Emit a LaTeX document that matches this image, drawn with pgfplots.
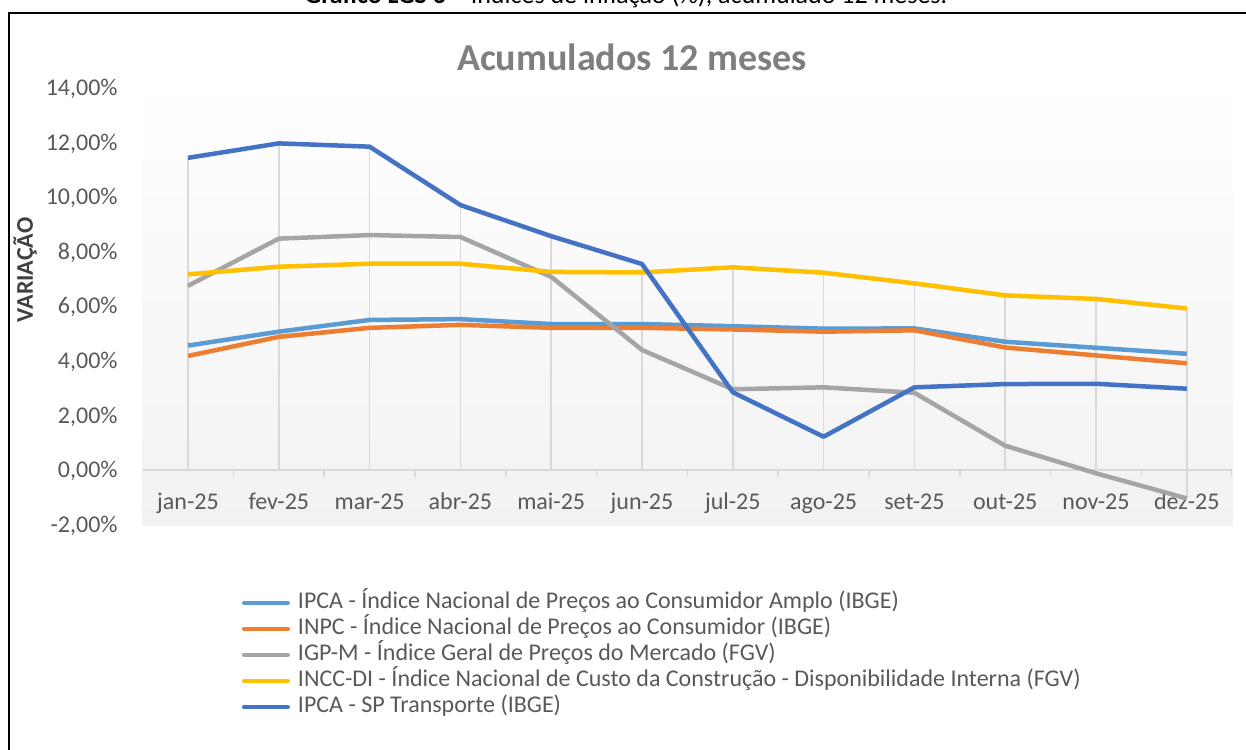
\documentclass[border=0pt]{standalone}
\usepackage{fontspec}
\setmainfont{Carlito}
\usepackage{pgfplots}
\pgfplotsset{compat=1.18}
\usepackage{pgfplotstable}

\definecolor{ipca}{HTML}{5B9BD5}
\definecolor{inpc}{HTML}{ED7D31}
\definecolor{igpm}{HTML}{A5A5A5}
\definecolor{incc}{HTML}{FFC000}
\definecolor{spt}{HTML}{4472C4}
\definecolor{gridc}{HTML}{D9D9D9}
\definecolor{labc}{HTML}{595959}
\definecolor{titc}{HTML}{7F7F7F}
\definecolor{bgc}{HTML}{F2F2F2}

\pgfplotstableread{
x ipca inpc igpm incc sp
0  4.56 4.18  6.75 7.17 11.44
1  5.07 4.88  8.48 7.45 11.97
2  5.50 5.21  8.61 7.56 11.85
3  5.53 5.32  8.54 7.56  9.71
4  5.35 5.21  7.08 7.26  8.57
5  5.35 5.21  4.40 7.24  7.55
6  5.27 5.15  2.96 7.43  2.85
7  5.18 5.07  3.03 7.23  1.22
8  5.19 5.12  2.83 6.84  3.03
9  4.70 4.49  0.89 6.40  3.15
10 4.48 4.20 -0.12 6.27  3.16
11 4.26 3.91 -1.04 5.92  2.98
}\datatable

\pgfplotstableread{
x y
0 11.44
0 0
0 nan
1 11.97
1 0
1 nan
2 11.85
2 0
2 nan
3 9.71
3 0
3 nan
4 8.57
4 0
4 nan
5 7.55
5 0
5 nan
6 7.43
6 0
6 nan
7 7.23
7 0
7 nan
8 6.84
8 0
8 nan
9 6.40
9 0
9 nan
10 6.27
10 -0.12
10 nan
11 5.92
11 -1.04
}\droptable

\begin{document}
\begin{tikzpicture}
\begin{scope}
\clip (0,0) rectangle (623pt,374.5pt);
\fill[white] (0,0) rectangle (623pt,374.5pt);
\shade[top color=white, bottom color=bgc] (71pt,111.5pt) rectangle (616.5pt,337pt);
\draw[black, line width=1pt] (4.5pt,-5pt) -- (4.5pt,368pt) -- (640pt,368pt);
\node[anchor=base, font=\fontsize{13}{15}\selectfont] at (313pt,372.5pt) {\textbf{Gráfico LGS 6} – Índices de inflação (\%), acumulado 12 meses.};
\node[font=\fontsize{19}{22}\selectfont\bfseries, text=titc] at (316pt,346pt) {Acumulados 12 meses};
\node[rotate=90, font=\fontsize{12}{14}\selectfont\bfseries, text=black!75] at (12.5pt,239.5pt) {VARIAÇÃO};
\begin{axis}[
  at={(71.3pt,112.2pt)}, anchor=south west,
  scale only axis, width=544.8pt, height=218.3pt,
  xmin=-0.5, xmax=11.5, ymin=-2, ymax=14,
  axis line style={draw=none},
  major tick length=0pt,
  xtick={0,...,11},
  xticklabels={jan-25,fev-25,mar-25,abr-25,mai-25,jun-25,jul-25,ago-25,set-25,out-25,nov-25,dez-25},
  ytick={-2,0,2,4,6,8,10,12,14},
  yticklabels={{-2,00\%},{0,00\%},{2,00\%},{4,00\%},{6,00\%},{8,00\%},{10,00\%},{12,00\%},{14,00\%}},
  tick label style={font=\fontsize{12}{14}\selectfont, text=labc, inner sep=0pt, text height=7.6pt, text depth=0pt},
  xticklabel style={anchor=center, yshift=11.3pt},
  yticklabel style={anchor=east, xshift=-12.3pt},
  legend style={at={(axis description cs:0.0912,-0.1498)}, anchor=north west,
    draw=none, fill=none, inner sep=0pt, outer sep=0pt, row sep=0pt,
    font=\fontsize{12}{14}\selectfont, text=labc,
    nodes={inner sep=0pt, text height=9pt, text depth=4pt},
    /tikz/column 1/.style={column sep=4pt}},
  legend cell align=left,
  legend image code/.code={\path[draw=none, fill=none] (0pt,-2pt) rectangle (24pt,2pt);
    \draw[#1, fill=none, line width=2.2pt, line cap=round] (1.1pt,0pt) -- (22.9pt,0pt);},
]
\addplot[gridc, line width=0.75pt, forget plot, unbounded coords=jump] table[x=x,y=y] {\droptable};
\draw[gridc, line width=0.75pt] (axis cs:-0.5,0) -- (axis cs:11.5,0);
\pgfplotsinvokeforeach{-0.5,0.5,1.5,2.5,3.5,4.5,5.5,6.5,7.5,8.5,9.5,10.5,11.5}{
  \draw[gridc, line width=0.75pt] (axis cs:#1,0) -- ++(0pt,-3.5pt);
}
\addplot[ipca, line width=2.25pt, line join=round] table[x=x,y=ipca] {\datatable};
\addlegendentry{IPCA - Índice Nacional de Preços ao Consumidor Amplo (IBGE)}
\addplot[inpc, line width=2.25pt, line join=round] table[x=x,y=inpc] {\datatable};
\addlegendentry{INPC - Índice Nacional de Preços ao Consumidor (IBGE)}
\addplot[igpm, line width=2.25pt, line join=round] table[x=x,y=igpm] {\datatable};
\addlegendentry{IGP-M - Índice Geral de Preços do Mercado (FGV)}
\addplot[incc, line width=2.25pt, line join=round] table[x=x,y=incc] {\datatable};
\addlegendentry{INCC-DI - Índice Nacional de Custo da Construção - Disponibilidade Interna (FGV)}
\addplot[spt, line width=2.25pt, line join=round] table[x=x,y=sp] {\datatable};
\addlegendentry{IPCA - SP Transporte (IBGE)}
\end{axis}
\end{scope}
\pgfresetboundingbox
\useasboundingbox (0,0) rectangle (623pt,374.5pt);
\end{tikzpicture}
\end{document}
